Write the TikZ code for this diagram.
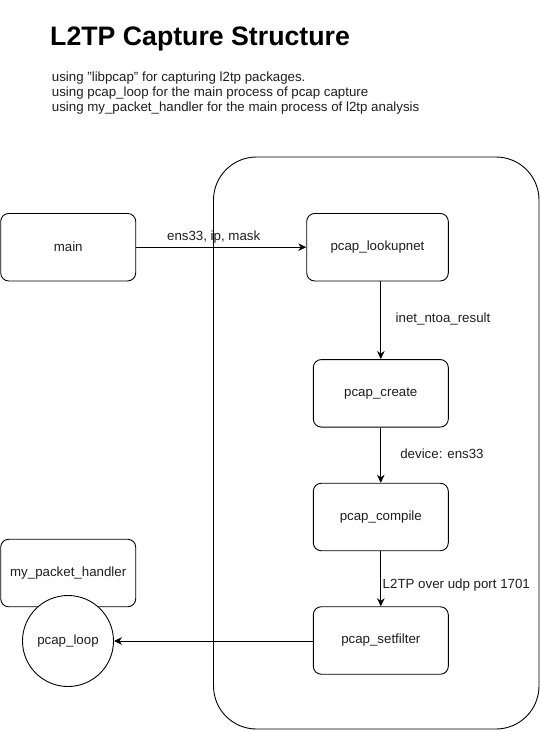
\documentclass[tikz,border=0pt]{standalone}
\usepackage{fontspec}
\setmainfont{Liberation Sans}
\usetikzlibrary{arrows.meta}
\begin{document}
\begin{tikzpicture}[x=1pt,y=-1pt,
  every node/.style={text=black!88},
  txt/.style={font=\fontsize{13.3}{15}\selectfont},
  box/.style={txt, draw=black, rounded corners=8pt, minimum width=135pt, minimum height=67.5pt,
    line width=0.9pt, inner sep=0pt},
  lbl/.style={txt, inner sep=0pt},
  desc/.style={txt, inner sep=0pt, anchor=base west},
  conn/.style={draw=black, line width=0.9pt, -{Stealth[length=8pt,width=7.5pt,inset=2.5pt]}}
]
\useasboundingbox (0,0) rectangle (540,731);
\fill[white] (0,0) rectangle (540,731);

% title and description
\node[anchor=base west, inner sep=0pt, font=\bfseries\fontsize{26.7}{30}\selectfont, text=black] (title) at (50,45) {L2TP Capture Structure};
\node[desc] (d1) at (51.7,81) {using \char34\relax libpcap\char34\relax{} for capturing l2tp packages.};
\node[desc] (d2) at (51.7,96) {using pcap\_loop for the main process of pcap capture};
\node[desc] (d3) at (51.7,111) {using my\_packet\_handler for the main process of l2tp analysis};

% container
\draw[line width=0.9pt, rounded corners=43pt] (213.5,157) rectangle (539,729);

% boxes
\node[box] (main) at (68.2,247.2) {main};
\node[box, minimum width=141.6pt] (lookup) at (377.5,247.2) {pcap\_lookupnet};
\node[box] (create) at (380.8,393.3) {pcap\_create};
\node[box] (compile) at (380.8,517) {pcap\_compile};
\node[box] (setfilter) at (380.8,640.5) {pcap\_setfilter};
\node[box] (handler) at (68.2,573) {my\_packet\_handler};
\node[txt, draw=black, fill=white, circle, minimum size=91pt, inner sep=0pt, line width=0.9pt] (loop) at (68,641) {pcap\_loop};

% connectors
\draw[conn] (main.east) -- (lookup.west);
\draw[conn] (lookup.south -| create.north) -- (create.north);
\draw[conn] (create.south) -- (compile.north);
\draw[conn] (compile.south) -- (setfilter.north);
\draw[conn] (setfilter.west |- loop.east) -- (loop.east);

% labels
\node[lbl] (l1) at (213.7,236.7) {ens33, ip, mask};
\node[lbl] (l2) at (443,319) {inet\_ntoa\_result};
\node[lbl] (l3) at (442,453.3) {device: ens33};
\node[lbl] (l4) at (456.3,585) {L2TP over udp port 1701};
\end{tikzpicture}
\end{document}
